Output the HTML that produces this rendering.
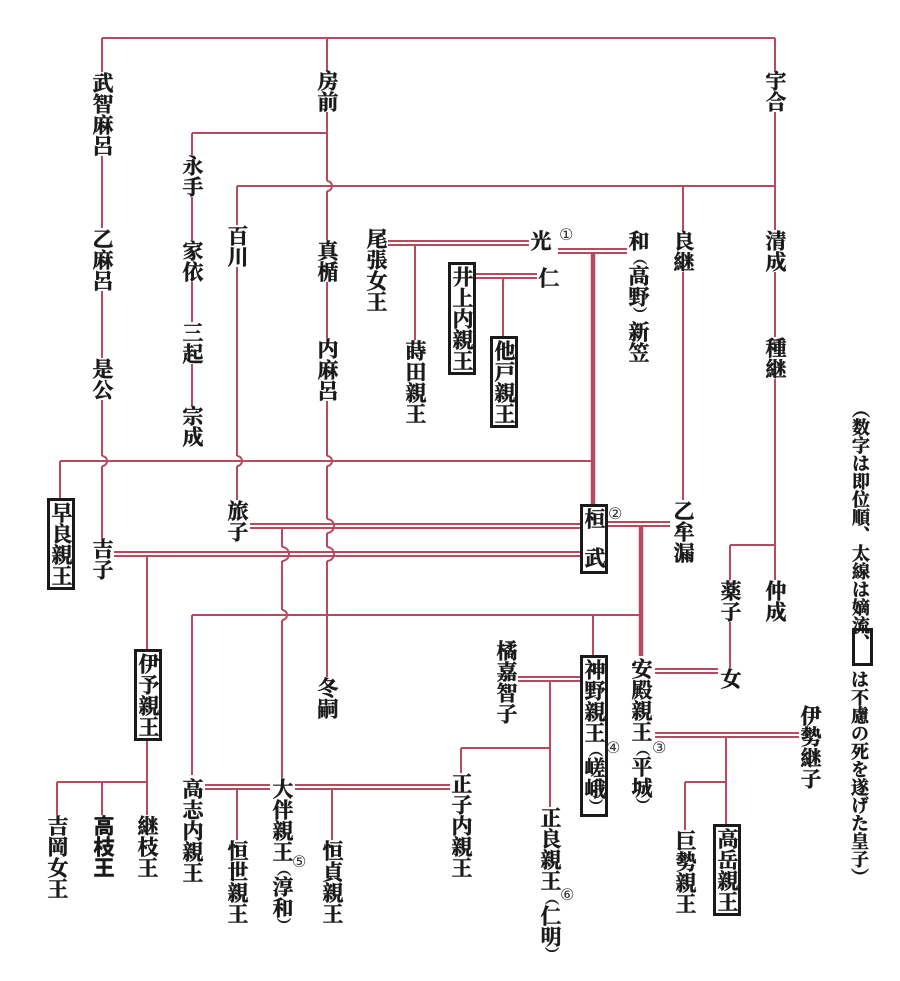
<!DOCTYPE html>
<html><head><meta charset="utf-8">
<style>
body{margin:0;background:#fff;}
#w{position:relative;width:900px;height:981px;overflow:hidden;background:#fff;}
svg{position:absolute;left:0;top:0;}
.t{position:absolute;writing-mode:vertical-rl;font-family:"Liberation Serif","Noto Serif CJK SC",serif;font-weight:700;font-size:21px;line-height:22px;width:22px;background:#fff;color:#1a1a1a;white-space:nowrap;-webkit-text-stroke:0.5px #1a1a1a;}
.b{border:3px solid #1a1a1a;padding:1px 0;}
.p{font-size:14px;}
.n{position:absolute;font-family:"DejaVu Sans",sans-serif;font-size:16px;color:#333;line-height:16px;}
.s{font-family:"Liberation Sans","Noto Sans CJK JP",sans-serif;font-weight:700;}
</style></head><body><div id="w">
<svg width="900" height="981" viewBox="0 0 900 981">
<g stroke="#b84a60" stroke-width="2" fill="none">
<path d="M102 38V540M327 38V680M775 38V580M192 133V445M237 186V505M683 186V500M415 245V420M503 278V337"/>
<path d="M147 556V782M57 782V815M102 782V815M147 782V815M192 615V775M282 528V778M593 615V656M730 545V668M550 681V807M461 748V775M726 737V825M685 782V830M237 789V840M332 789V840M60 461V500"/>
<g stroke="#fff" stroke-width="4">
<path d="M327 181V191M102 456V466M237 456V466M327 456V466M327 519V533M327 547V561M282 547V561M282 610V620"/>
</g>
<path d="M102 38H775M327 133H192M237 186H775M60 461H593M775 545H730M192 615H641M57 782H147M550 748H461M726 782H685"/>
<path d="M388 241H533M388 245H533M472 274H540M472 278H540M558 249H627M558 253H627"/>
<path d="M250 524H580M250 528H580M114 552H580M114 556H580M606 522H670M606 526H670"/>
<path d="M655 669H718M655 673H718M518 677H580M518 681H580M655 733H800M655 737H800"/>
<path d="M205 785H270M205 789H270M295 785H450M295 789H450"/>
<path d="M327 181A5 5 0 0 1 327 191M102 456A5 5 0 0 1 102 466M237 456A5 5 0 0 1 237 466M327 456A5 5 0 0 1 327 466M327 519A7 7 0 0 1 327 533M327 547A7 7 0 0 1 327 561M282 547A7 7 0 0 1 282 561M282 610A5 5 0 0 1 282 620"/>
</g>
<g stroke="#b84a60" stroke-width="4.5" fill="none">
<path d="M593 253V505M641 526V656"/>
</g>
</svg>

<div class="t" style="left:91px;top:72px">武智麻呂</div>
<div class="t" style="left:91px;top:228px">乙麻呂</div>
<div class="t" style="left:91px;top:358px">是公</div>
<div class="t" style="left:91px;top:538px">吉子</div>
<div class="t" style="left:316px;top:70px">房前</div>
<div class="t" style="left:316px;top:240px">真楯</div>
<div class="t" style="left:316px;top:338px">内麻呂</div>
<div class="t" style="left:316px;top:677px">冬嗣</div>
<div class="t" style="left:181px;top:155px">永手</div>
<div class="t" style="left:181px;top:240px">家依</div>
<div class="t" style="left:181px;top:322px">三起</div>
<div class="t" style="left:181px;top:405px">宗成</div>
<div class="t" style="left:226px;top:225px">百川</div>
<div class="t" style="left:226px;top:500px">旅子</div>
<div class="t" style="left:365px;top:228px">尾張女王</div>
<div class="t" style="left:404px;top:340px">蒔田親王</div>
<div class="t" style="left:529px;top:230px">光</div>
<div class="t" style="left:537px;top:267px">仁</div>
<div class="t b" style="left:448px;top:262px">井上内親王</div>
<div class="t b" style="left:490px;top:336px">他戸親王</div>
<div class="t" style="left:627px;top:230px">和<span class="p">（</span>高野<span class="p">）</span>新笠</div>
<div class="t" style="left:764px;top:70px">宇合</div>
<div class="t" style="left:764px;top:230px">清成</div>
<div class="t" style="left:764px;top:337px">種継</div>
<div class="t" style="left:764px;top:580px">仲成</div>
<div class="t" style="left:719px;top:580px">薬子</div>
<div class="t" style="left:719px;top:668px">女</div>
<div class="t" style="left:672px;top:230px">良継</div>
<div class="t" style="left:672px;top:500px">乙牟漏</div>
<div class="t b" style="left:47px;top:498px">早良親王</div>
<div class="t b" style="left:580px;top:504px;height:62px;">桓<span style="display:inline-block;height:18px"></span>武</div>
<div class="t b" style="left:134px;top:649px">伊予親王</div>
<div class="t" style="left:46px;top:815px">吉岡女王</div>
<div class="t s" style="left:91px;top:815px">高枝王</div>
<div class="t" style="left:136px;top:815px">継枝王</div>
<div class="t" style="left:181px;top:778px">高志内親王</div>
<div class="t" style="left:226px;top:840px">恒世親王</div>
<div class="t" style="left:271px;top:778px">大伴親王<span class="p">（</span>淳和<span class="p">）</span></div>
<div class="t" style="left:321px;top:840px">恒貞親王</div>
<div class="t" style="left:450px;top:773px">正子内親王</div>
<div class="t" style="left:495px;top:640px">橘嘉智子</div>
<div class="t b" style="left:580px;top:655px">神野親王<span class="p">（</span>嵯峨<span class="p">）</span></div>
<div class="t" style="left:630px;top:658px">安殿親王<span class="p">（</span>平城<span class="p">）</span></div>
<div class="t" style="left:539px;top:807px">正良親王<span class="p">（</span>仁明<span class="p">）</span></div>
<div class="t" style="left:799px;top:705px">伊勢継子</div>
<div class="t" style="left:674px;top:830px">巨勢親王</div>
<div class="t b" style="left:713px;top:824px">高岳親王</div>

<div class="n" style="left:559px;top:227px">①</div>
<div class="n" style="left:608px;top:506px">②</div>
<div class="n" style="left:652px;top:740px">③</div>
<div class="n" style="left:606px;top:740px">④</div>
<div class="n" style="left:292px;top:854px">⑤</div>
<div class="n" style="left:560px;top:887px">⑥</div>

<div class="t" style="left:849px;top:400px;font-size:18px;line-height:17px;width:19px;">（数字は即位順、太線は嫡流、</div>
<div style="position:absolute;left:852px;top:628px;width:15px;height:32px;border:3px solid #1a1a1a;"></div>
<div class="t" style="left:849px;top:670px;font-size:18px;line-height:18px;width:19px;">は不慮の死を遂げた皇子）</div>
</div></body></html>
